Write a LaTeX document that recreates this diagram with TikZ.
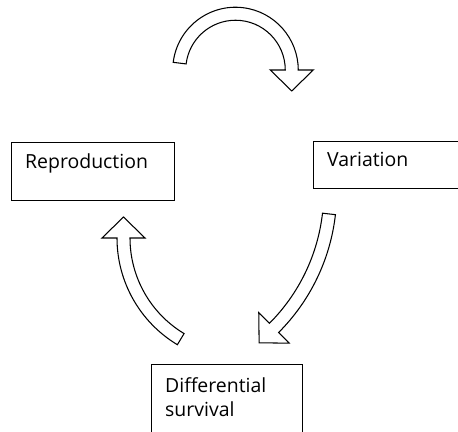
\documentclass[tikz,border=0pt]{standalone}
\usepackage{fontspec}
\setmainfont{Open Sans}
\usetikzlibrary{calc}
\tikzset{
  stagebox/.style={rectangle, draw=black, line width=1.2pt, anchor=north west,
    inner xsep=0.405cm, inner ysep=0pt, align=left, font=\fontsize{16.6}{20.4}\selectfont},
  hollowarrow/.style={draw=black, fill=white, line width=0.9pt, line join=miter}
}
% hollow curved arrow: centre x, centre y, radius, start angle, end angle
\newcommand{\cyclearrow}[5]{%
  \pgfmathsetmacro{\rout}{#3+6.5}
  \pgfmathsetmacro{\rin}{#3-6.5}
  \pgfmathsetmacro{\rhout}{#3+21.5}
  \pgfmathsetmacro{\rhin}{#3-21.5}
  \pgfmathsetmacro{\tang}{(#5<#4) ? #5-90 : #5+90}
  \draw[hollowarrow] ($(#1,#2)+(#4:\rout)$) arc[start angle=#4, end angle=#5, radius=\rout]
    -- ($(#1,#2)+(#5:\rhout)$) -- ($(#1,#2)+(#5:#3)+(\tang:21)$) -- ($(#1,#2)+(#5:\rhin)$)
    -- ($(#1,#2)+(#5:\rin)$) arc[start angle=#5, end angle=#4, radius=\rin] -- cycle;
}

\begin{document}
\begin{tikzpicture}[x=0.03cm, y=0.03cm]
  \useasboundingbox (0,0) rectangle (458,432);
  \clip (0,0) rectangle (458,432);
  % the three stages
  \node[stagebox, text width=4.08cm, text height=0.78cm, text depth=0.96cm] (repro) at (11,290) {Reproduction};
  \node[stagebox, text width=5cm, text height=0.75cm, text depth=0.66cm] (variation) at (313,291) {Variation};
  \node[stagebox, text width=3.72cm, text height=0.84cm, text depth=2.4cm] (survival) at (151,68) {Differential\\survival};
  % hollow arrows round the cycle
  \cyclearrow{235.5}{362}{56.25}{173}{0}
  \cyclearrow{138.2}{239.8}{192}{-6.5}{-45}
  \cyclearrow{241.5}{194}{118}{239}{180}
\end{tikzpicture}
\end{document}
